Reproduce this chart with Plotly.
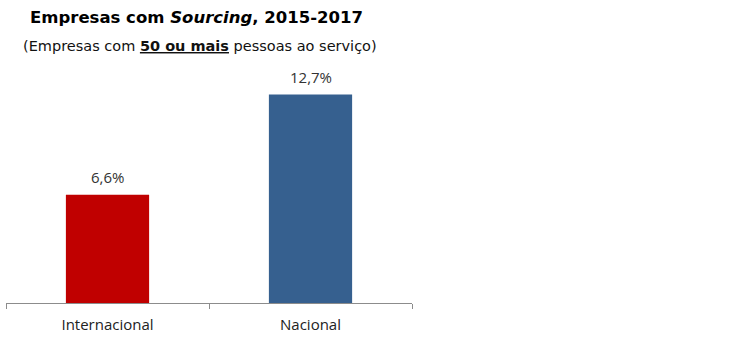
import plotly.graph_objects as go

categories = ["Internacional", "Nacional"]
values = [6.6, 12.7]
bar_colors = ["#C00000", "#36608F"]

labels = [f"{v:.1f}".replace(".", ",") + "%" for v in values]

fig = go.Figure(
    go.Bar(
        x=categories,
        y=values,
        marker=dict(color=bar_colors, line=dict(width=0)),
        width=0.41,
        hoverinfo="skip",
    )
)

# value labels sitting a little above each bar
value_annotations = [
    dict(
        x=c, y=v, xref="x", yref="y",
        text=t, showarrow=False,
        yanchor="bottom", yshift=6,
        font=dict(family="Open Sans", size=15, color="#333333"),
    )
    for c, v, t in zip(categories, values, labels)
]

W, H = 750, 341
ML, MR, MT, MB = 6, 338, 70, 38


def paper_xy(px, py):
    return (px - ML) / (W - ML - MR), 1 + (MT - py) / (H - MT - MB)


tx, ty = paper_xy(196, 17)
sx, sy = paper_xy(200, 46)

fig.update_layout(
    width=W,
    height=H,
    margin=dict(l=ML, r=MR, t=MT, b=MB),
    paper_bgcolor="white",
    plot_bgcolor="white",
    showlegend=False,
    xaxis=dict(
        showline=True,
        linecolor="#8C8C8C",
        linewidth=1,
        ticks="outside",
        tickson="boundaries",
        ticklen=5,
        tickcolor="#8C8C8C",
        ticklabelstandoff=8,
        tickfont=dict(family="Open Sans", size=15, color="#222222"),
        showgrid=False,
    ),
    yaxis=dict(
        range=[0, 14.2],
        visible=False,
        showgrid=False,
    ),
    annotations=value_annotations + [
        dict(
            text="<b>Empresas com <i>Sourcing</i>, 2015-2017</b>",
            x=tx, y=ty, xref="paper", yref="paper",
            xanchor="center", yanchor="middle",
            showarrow=False,
            font=dict(family="DejaVu Sans", size=16.5, color="#000000"),
        ),
        dict(
            text="(Empresas com <b><u>50 ou mais</u></b> pessoas ao serviço)",
            x=sx, y=sy, xref="paper", yref="paper",
            xanchor="center", yanchor="middle",
            showarrow=False,
            font=dict(family="DejaVu Sans", size=14.5, color="#111111"),
        ),
    ],
)

fig.write_html("out.html")
